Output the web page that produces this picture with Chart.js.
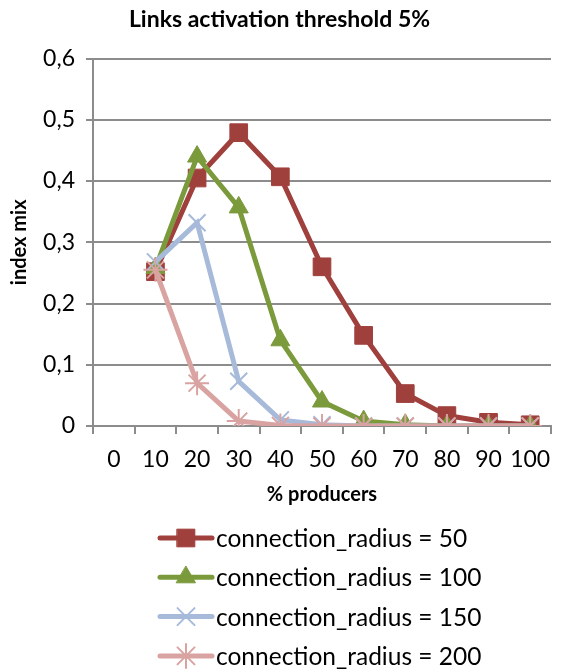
<!DOCTYPE html>
<html>
<head>
<meta charset="utf-8">
<script src="https://cdn.jsdelivr.net/npm/chart.js@4.4.1/dist/chart.umd.min.js"></script>
<style>
  html, body { margin: 0; padding: 0; background: #fff; }
  #wrap { width: 565px; height: 670px; position: relative; }
</style>
</head>
<body>
<div id="wrap"><canvas id="c"></canvas></div>
<script>
// данные с картинки
const categories = ['0', '10', '20', '30', '40', '50', '60', '70', '80', '90', '100'];
const seriesNames = ['connection_radius = 50', 'connection_radius = 100', 'connection_radius = 150', 'connection_radius = 200'];
const radius50 = [null, 0.252, 0.405, 0.479, 0.407, 0.260, 0.148, 0.053, 0.017, 0.006, 0.002];
const radius100 = [null, 0.258, 0.440, 0.357, 0.140, 0.040, 0.008, 0.002, 0.000, 0.000, 0.000];
const radius150 = [null, 0.268, 0.332, 0.073, 0.010, 0.002, 0.000, 0.000, 0.000, 0.000, 0.000];
const radius200 = [null, 0.255, 0.070, 0.008, 0.001, 0.000, 0.000, 0.000, 0.000, 0.000, 0.000];
const yTicks = [0, 0.1, 0.2, 0.3, 0.4, 0.5, 0.6];

const FONT = "Lato, 'Liberation Sans', sans-serif";
const GRID = '#8c8c8c';

const styles = [
   { color: '#A0403D', point: 'rect', r: 12.5, pbw: 1 },
   { color: '#7B9A3C', point: 'triangle', r: 11, pbw: 1 },
   { color: '#A7BADA', point: 'crossRot', r: 12, pbw: 2 },
   { color: '#D9A3A2', point: 'star', r: 12, pbw: 2 },
];
const values = [radius50, radius100, radius150, radius200];

// Легенда столбиком, как в Excel
const legendPlugin = {
   id: 'colLegend',
   afterDraw(chart) {
      const ctx = chart.ctx;
      chart.data.datasets.forEach((ds, i) => {
         const y = 538 + i * 39.3;
         ctx.save();
         ctx.strokeStyle = ds.borderColor;
         ctx.lineWidth = 5;
         ctx.lineCap = 'round';
         ctx.beginPath();
         ctx.moveTo(160, y);
         ctx.lineTo(212, y);
         ctx.stroke();
         ctx.fillStyle = ds.pointBackgroundColor;
         ctx.strokeStyle = ds.pointBorderColor;
         ctx.lineWidth = ds.pointBorderWidth;
         Chart.helpers.drawPoint(ctx, {
            pointStyle: ds.pointStyle,
            radius: ds.pointRadius,
            borderWidth: ds.pointBorderWidth,
            rotation: 0,
         }, 186, y);
         ctx.fillStyle = '#000';
         ctx.font = '24.5px ' + FONT;
         ctx.textAlign = 'left';
         ctx.textBaseline = 'middle';
         ctx.fillText(ds.label, 216, y + 1);
         ctx.restore();
      });
   }
};

const datasets = values.map((v, i) => ({
   label: seriesNames[i],
   data: v,
   borderColor: styles[i].color,
   backgroundColor: styles[i].color,
   borderWidth: 5,
   tension: 0,
   pointStyle: styles[i].point,
   pointRadius: styles[i].r,
   pointHoverRadius: styles[i].r,
   pointBackgroundColor: styles[i].color,
   pointBorderColor: styles[i].color,
   pointBorderWidth: styles[i].pbw,
   order: 4 - i,
}));

new Chart(document.getElementById('c'), {
   type: 'line',
   data: { labels: categories, datasets },
   plugins: [legendPlugin],
   options: {
      responsive: true,
      maintainAspectRatio: false,
      animation: false,
      layout: { padding: { top: 0, left: 0, right: 6, bottom: 150 } },
      plugins: {
         legend: { display: false },
         tooltip: { enabled: false },
         title: {
            display: true,
            text: 'Links activation threshold 5%',
            color: '#000',
            font: { family: FONT, size: 23, weight: 'bold' },
            padding: { top: 6, bottom: 25 },
         },
      },
      scales: {
         x: {
            offset: true,
            afterFit(scale) { scale.height = 94; },
            grid: {
               display: true,
               drawOnChartArea: false,
               drawTicks: true,
               tickLength: 8,
               color: GRID,
               lineWidth: 2,
               offset: true,
            },
            border: { display: true, color: GRID, width: 2 },
            ticks: {
               color: '#000',
               padding: 12,
               maxRotation: 0,
               autoSkip: false,
               font: { family: FONT, size: 23 },
            },
            title: {
               display: true,
               text: '% producers',
               color: '#000',
               font: { family: FONT, size: 20, weight: 'bold' },
               padding: { top: 0, bottom: 13 },
            },
         },
         y: {
            min: 0,
            max: 0.6,
            afterFit(scale) { scale.width = 93; },
            afterBuildTicks(scale) { scale.ticks = yTicks.map(v => ({ value: v })); },
            grid: {
               color: GRID,
               lineWidth: 2,
               tickLength: 7,
            },
            border: { display: true, color: GRID, width: 2 },
            ticks: {
               color: '#000',
               padding: 11,
               font: { family: FONT, size: 23 },
               callback: (v) => v === 0 ? '0' : v.toFixed(1).replace('.', ','),
            },
            title: {
               display: true,
               text: 'index mix',
               color: '#000',
               font: { family: FONT, size: 20, weight: 'bold' },
               padding: { top: 8, bottom: 0 },
            },
         },
      },
   },
});
</script>
</body>
</html>
